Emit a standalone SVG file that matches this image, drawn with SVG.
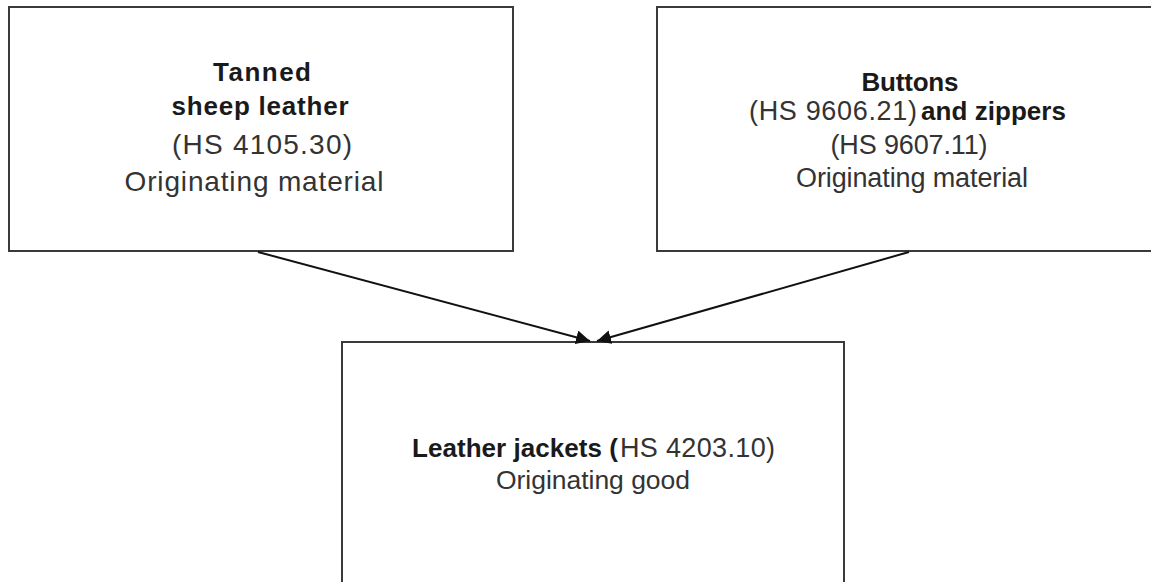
<svg xmlns="http://www.w3.org/2000/svg" width="1151" height="582" viewBox="0 0 1151 582">
  <style>
    .box { fill: #ffffff; stroke: #3a3a3a; stroke-width: 2; }
    .t { font-family: "Liberation Sans", Arial, sans-serif; font-size: 26px; fill: #333333; }
    .r1 { font-size: 28px; }
    .r2 { font-size: 27px; }
    .b { font-weight: bold; fill: #1a1a1a; }
    .c { text-anchor: middle; }
    .conn { stroke: #111111; stroke-width: 2; fill: none; }
  </style>
  <defs>
    <marker id="arrow" markerUnits="userSpaceOnUse" markerWidth="16" markerHeight="14" refX="14" refY="7" orient="auto">
      <path d="M0,0 L14,7 L0,14 Z" fill="#111111"/>
    </marker>
  </defs>
  <rect width="1151" height="582" fill="#ffffff"/>

  <g id="node-leather">
    <rect class="box" x="9" y="7" width="504" height="244"/>
    <text class="t b c" x="262" y="81" textLength="98" lengthAdjust="spacing">Tanned</text>
    <text class="t b c" x="260" y="115" textLength="177" lengthAdjust="spacing">sheep leather</text>
    <text class="t r1 c" x="262" y="154" textLength="180" lengthAdjust="spacing">(HS  4105.30)</text>
    <text class="t r1 c" x="254" y="191" textLength="259" lengthAdjust="spacing">Originating material</text>
  </g>

  <g id="node-buttons">
    <rect class="box" x="657" y="7" width="510" height="244"/>
    <text class="t b c" x="910" y="91" textLength="97" lengthAdjust="spacing">Buttons</text>
    <text class="t r2" x="749" y="120" textLength="168" lengthAdjust="spacing">(HS 9606.21)</text>
    <text class="t b" x="921" y="120" textLength="145" lengthAdjust="spacing">and zippers</text>
    <text class="t r2 c" x="909" y="154" textLength="157" lengthAdjust="spacing">(HS 9607.11)</text>
    <text class="t r2 c" x="912" y="187" textLength="232" lengthAdjust="spacing">Originating material</text>
  </g>

  <g id="node-jackets">
    <rect class="box" x="342" y="342" width="502" height="260"/>
    <text class="t b" x="412" y="457" textLength="206" lengthAdjust="spacing">Leather jackets (</text>
    <text class="t r2" x="620" y="457" textLength="155" lengthAdjust="spacing">HS 4203.10)</text>
    <text class="t c" x="593" y="489" textLength="194" lengthAdjust="spacing" style="font-size:26.5px">Originating good</text>
  </g>

  <g id="connectors">
    <line class="conn" x1="258" y1="252" x2="590" y2="341" marker-end="url(#arrow)"/>
    <line class="conn" x1="909" y1="252" x2="597" y2="341" marker-end="url(#arrow)"/>
  </g>
</svg>
